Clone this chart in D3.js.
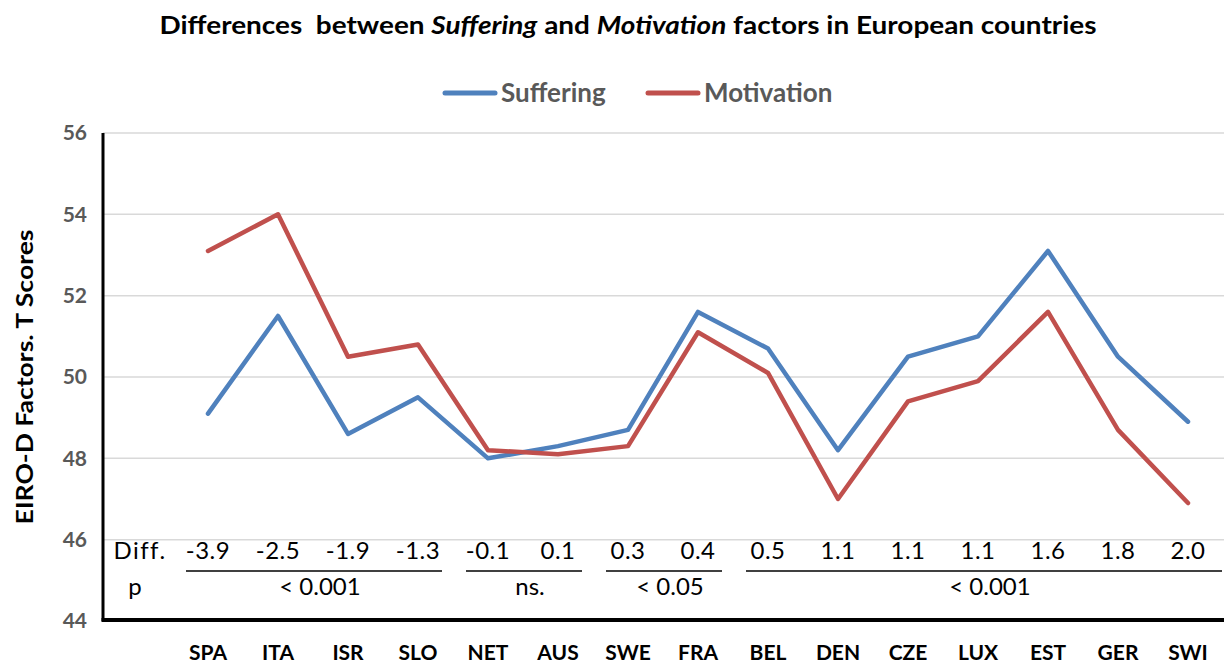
<!DOCTYPE html>
<html>
<head>
<meta charset="utf-8">
<script src="https://cdn.jsdelivr.net/npm/d3@7"></script>
<style>
  body { margin: 0; background: #fff; }
  text { font-family: Lato, "Open Sans", sans-serif; }
</style>
</head>
<body>
<div id="chart"></div>
<script>
// data
const countries = ['SPA', 'ITA', 'ISR', 'SLO', 'NET', 'AUS', 'SWE', 'FRA', 'BEL', 'DEN', 'CZE', 'LUX', 'EST', 'GER', 'SWI'];
const suffering = [49.1, 51.5, 48.6, 49.5, 48.0, 48.3, 48.7, 51.6, 50.7, 48.2, 50.5, 51.0, 53.1, 50.5, 48.9];
const motivation = [53.1, 54.0, 50.5, 50.8, 48.2, 48.1, 48.3, 51.1, 50.1, 47.0, 49.4, 49.9, 51.6, 48.7, 46.9];
const diffs = ['-3.9', '-2.5', '-1.9', '-1.3', '-0.1', '0.1', '0.3', '0.4', '0.5', '1.1', '1.1', '1.1', '1.6', '1.8', '2.0'];
const pGroups = [
  { label: '< 0.001', from: 'SPA', to: 'SLO' },
  { label: 'ns.', from: 'NET', to: 'AUS' },
  { label: '< 0.05', from: 'SWE', to: 'FRA' },
  { label: '< 0.001', from: 'BEL', to: 'SWI' }
];
const yTicks = [44, 46, 48, 50, 52, 54, 56];

const width = 1224, height = 665;
const margin = { left: 103, right: 1, top: 133, bottom: 44 };

const svg = d3.select('div#chart').append('svg')
  .attr('width', width)
  .attr('height', height);

// an empty first slot holds the "Diff." / "p" row labels
const x = d3.scaleBand()
  .domain([''].concat(countries))
  .range([margin.left, width - margin.right]);
const cx = d => x(d) + x.bandwidth() / 2;

const y = d3.scaleLinear()
  .domain([44, 56])
  .range([height - margin.bottom, margin.top]);

// gridlines
svg.append('g')
  .selectAll('line')
  .data(yTicks.filter(d => d > 44))
  .join('line')
  .attr('x1', margin.left)
  .attr('x2', width)
  .attr('y1', d => y(d))
  .attr('y2', d => y(d))
  .attr('stroke', '#d9d9d9')
  .attr('stroke-width', 1.5);

// y tick labels
svg.append('g')
  .selectAll('text')
  .data(yTicks)
  .join('text')
  .attr('x', 87)
  .attr('y', d => y(d))
  .attr('dy', '0.35em')
  .attr('text-anchor', 'end')
  .attr('font-size', 21)
  .attr('font-weight', 'bold')
  .attr('fill', '#595959')
  .text(d => d);

// axis title
svg.append('text')
  .attr('transform', 'translate(33,' + ((y(44) + y(56)) / 2 - 0) + ') rotate(-90)')
  .attr('text-anchor', 'middle')
  .attr('font-size', 22)
  .attr('font-weight', 'bold')
  .attr('fill', '#000')
  .attr('textLength', 295)
  .attr('lengthAdjust', 'spacingAndGlyphs')
  .text('EIRO-D Factors. T Scores');

// lines
const line = d3.line()
  .x((d, i) => cx(countries[i]))
  .y(d => y(d));

const series = [
  { name: 'Suffering', values: suffering, color: '#4f81bd' },
  { name: 'Motivation', values: motivation, color: '#c0504d' }
];

svg.append('g')
  .selectAll('path')
  .data(series)
  .join('path')
  .attr('d', d => line(d.values))
  .attr('fill', 'none')
  .attr('stroke', d => d.color)
  .attr('stroke-width', 4.5)
  .attr('stroke-linejoin', 'round')
  .attr('stroke-linecap', 'round');

// Diff. row
const table = svg.append('g').attr('font-size', 24).attr('fill', '#000');
table.append('text')
  .attr('x', cx('') + 2)
  .attr('y', 559)
  .attr('text-anchor', 'middle')
  .attr('letter-spacing', 1.5)
  .text('Diff.');
table.append('text')
  .attr('x', cx('') - 3)
  .attr('y', 595)
  .attr('text-anchor', 'middle')
  .text('p');

table.selectAll('text.diff')
  .data(diffs)
  .join('text')
  .attr('class', 'diff')
  .attr('x', (d, i) => cx(countries[i]))
  .attr('y', 559)
  .attr('text-anchor', 'middle')
  .attr('letter-spacing', 0.5)
  .text(d => d);

// p groups: underline plus label
const gx1 = g => cx(g.from) - 22;
const gx2 = g => g.to === countries[countries.length - 1] ? width - 2 : cx(g.to) + 24;

table.selectAll('line.grp')
  .data(pGroups)
  .join('line')
  .attr('class', 'grp')
  .attr('x1', gx1)
  .attr('x2', gx2)
  .attr('y1', 571)
  .attr('y2', 571)
  .attr('stroke', '#000')
  .attr('stroke-width', 1.5);

table.selectAll('text.grp')
  .data(pGroups)
  .join('text')
  .attr('class', 'grp')
  .attr('x', g => (gx1(g) + gx2(g)) / 2 + 6)
  .attr('y', 595)
  .attr('text-anchor', 'middle')
  .text(g => g.label);

// axes lines
svg.append('line')
  .attr('x1', margin.left)
  .attr('x2', margin.left)
  .attr('y1', y(56))
  .attr('y2', y(44))
  .attr('stroke', '#000')
  .attr('stroke-width', 3);
svg.append('line')
  .attr('x1', margin.left - 1.5)
  .attr('x2', width)
  .attr('y1', y(44) - 1)
  .attr('y2', y(44) - 1)
  .attr('stroke', '#000')
  .attr('stroke-width', 4);

// x labels
svg.append('g')
  .selectAll('text')
  .data(countries)
  .join('text')
  .attr('x', d => cx(d))
  .attr('y', 660)
  .attr('text-anchor', 'middle')
  .attr('font-size', 21)
  .attr('font-weight', 'bold')
  .attr('fill', '#000')
  .text(d => d);

// title
const title = svg.append('text')
  .attr('x', 628)
  .attr('y', 34)
  .attr('text-anchor', 'middle')
  .attr('font-size', 25)
  .attr('font-weight', 'bold')
  .attr('fill', '#000')
  .attr('textLength', 937)
  .attr('lengthAdjust', 'spacingAndGlyphs');
title.append('tspan').text('Differences\u00a0 between ');
title.append('tspan').attr('font-style', 'italic').text('Suffering');
title.append('tspan').text(' and ');
title.append('tspan').attr('font-style', 'italic').text('Motivation');
title.append('tspan').text(' factors in European countries');

// legend
const legend = svg.append('g');
const legendX = [443, 646];
series.forEach((s, i) => {
  legend.append('line')
    .attr('x1', legendX[i] + 2)
    .attr('x2', legendX[i] + 52)
    .attr('y1', 93)
    .attr('y2', 93)
    .attr('stroke', s.color)
    .attr('stroke-width', 5)
    .attr('stroke-linecap', 'round');
  legend.append('text')
    .attr('x', legendX[i] + 58)
    .attr('y', 93)
    .attr('dy', '0.36em')
    .attr('font-size', 26)
    .attr('font-weight', 'bold')
    .attr('fill', '#595959')
    .text(s.name);
});
</script>
</body>
</html>
